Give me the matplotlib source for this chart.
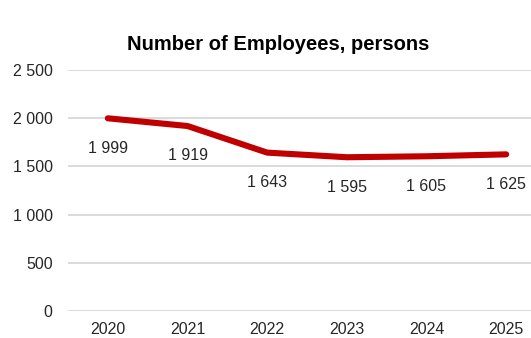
import matplotlib.pyplot as plt

plt.rcParams['font.family'] = ['Liberation Sans', 'DejaVu Sans']

# Data
years = ['2020', '2021', '2022', '2023', '2024', '2025']
employees = [1999, 1919, 1643, 1595, 1605, 1625]
y_ticks = [0, 500, 1000, 1500, 2000, 2500]


def fmt(v):
    # thousands separated by a space, as in the source
    return f"{v:,}".replace(",", " ")


fig = plt.figure(figsize=(5.31, 3.38), dpi=100)
fig.patch.set_facecolor('white')

# axes run a little past the right edge, like the cropped original
ax = fig.add_axes([68 / 531, 1 - 311 / 338, 478 / 531, 241 / 338])

x = list(range(len(years)))
ax.plot(x, employees, color='#c00000', linewidth=4.4, solid_capstyle='round',
        solid_joinstyle='round', zorder=3)

for xi, v in zip(x, employees):
    ax.annotate(fmt(v), (xi, v), xytext=(0, -21.5), textcoords='offset points',
                ha='center', va='center', fontsize=11.5, color='#262626')

ax.set_xlim(-0.5, 5.5)
ax.set_ylim(0, 2500)
ax.set_yticks(y_ticks)
ax.set_yticklabels([fmt(t) for t in y_ticks], fontsize=11.5, color='#262626')
ax.set_xticks(x)
ax.set_xticklabels(years, fontsize=11.5, color='#262626')

ax.grid(axis='y', color='#d4d4d4', linewidth=1.2)
ax.set_axisbelow(True)
for s in ax.spines.values():
    s.set_visible(False)
ax.tick_params(axis='both', length=0)
ax.tick_params(axis='y', pad=11)
ax.tick_params(axis='x', pad=8)

fig.text(278 / 531, 1 - 44 / 338, 'Number of Employees, persons', ha='center',
         va='center', fontsize=14.5, fontweight='bold', color='black')

plt.savefig('out.png', dpi=100)
